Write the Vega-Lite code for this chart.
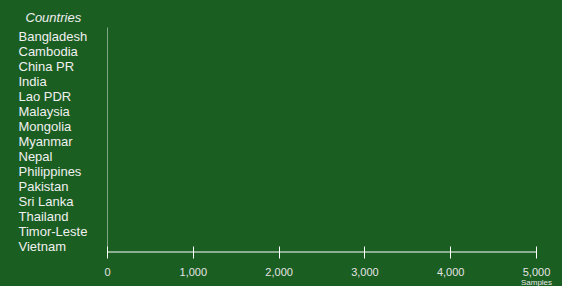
{
  "$schema": "https://vega.github.io/schema/vega-lite/v6.json",
  "width": 429,
  "height": 225,
  "autosize": {"type": "none"},
  "padding": {"left": 107, "top": 27, "right": 26, "bottom": 34},
  "background": "#1b5e22",
  "config": {"view": {"stroke": null}, "font": "Liberation Sans"},
  "data": {
    "values": [
      {"Country": "Bangladesh", "Samples": 0},
      {"Country": "Cambodia", "Samples": 0},
      {"Country": "China PR", "Samples": 0},
      {"Country": "India", "Samples": 0},
      {"Country": "Lao PDR", "Samples": 0},
      {"Country": "Malaysia", "Samples": 0},
      {"Country": "Mongolia", "Samples": 0},
      {"Country": "Myanmar", "Samples": 0},
      {"Country": "Nepal", "Samples": 0},
      {"Country": "Philippines", "Samples": 0},
      {"Country": "Pakistan", "Samples": 0},
      {"Country": "Sri Lanka", "Samples": 0},
      {"Country": "Thailand", "Samples": 0},
      {"Country": "Timor-Leste", "Samples": 0},
      {"Country": "Vietnam", "Samples": 0}
    ]
  },
  "layer": [
    {
      "mark": {"type": "bar", "color": "#f7a11a"},
      "encoding": {
        "y": {
          "field": "Country",
          "type": "nominal",
          "sort": null,
          "scale": {
            "domain": ["Bangladesh", "Cambodia", "China PR", "India", "Lao PDR", "Malaysia", "Mongolia", "Myanmar", "Nepal", "Philippines", "Pakistan", "Sri Lanka", "Thailand", "Timor-Leste", "Vietnam"],
            "paddingInner": 0,
            "paddingOuter": 0
          },
          "axis": {
            "title": "Countries",
            "titleAngle": 0,
            "titleFontStyle": "italic",
            "titleFontWeight": "normal",
            "titleFontSize": 13,
            "titleColor": "#f0f0f0",
            "titleAlign": "left",
            "titleBaseline": "alphabetic",
            "titleX": -82,
            "titleY": -6,
            "labelAlign": "left",
            "labelBaseline": "middle",
            "labelPadding": 89,
            "labelOffset": 2,
            "ticks": false,
            "labelFontSize": 13,
            "labelColor": "#f0f0f0",
            "domainColor": "#ffffff",
            "domainOpacity": 0.45,
            "grid": false
          }
        },
        "x": {
          "field": "Samples",
          "type": "quantitative",
          "scale": {"domain": [0, 5000], "nice": false},
          "axis": {
            "title": "Samples",
            "values": [0, 1000, 2000, 3000, 4000, 5000],
            "format": ",d",
            "grid": false,
            "domain": false,
            "ticks": true,
            "tickSize": 12,
            "tickColor": "#ffffff",
            "tickWidth": 1,
            "offset": -6,
            "labelColor": "#e4e4e4",
            "labelFontSize": 11,
            "labelPadding": 8,
            "labelFlush": false,
            "titleFontSize": 8,
            "titleFontWeight": "normal",
            "titleColor": "#e8e8e8",
            "titleAlign": "center",
            "titleBaseline": "top",
            "titleX": 429,
            "titleY": 32
          }
        }
      }
    },
    {
      "data": {"values": [{}]},
      "mark": {"type": "rule", "color": "#ffffff", "strokeWidth": 1},
      "encoding": {
        "x": {"datum": 0, "type": "quantitative"},
        "x2": {"datum": 5000},
        "y": {"datum": "Vietnam", "type": "nominal", "bandPosition": 1}
      }
    }
  ]
}
